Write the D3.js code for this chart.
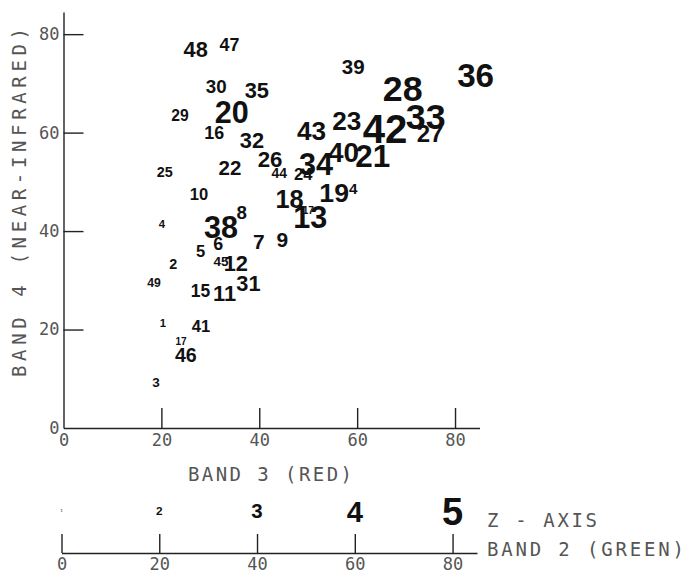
<!DOCTYPE html>
<html>
<head>
  <meta charset="utf-8">
  <script src="https://d3js.org/d3.v7.min.js"></script>
  <style>
    body { margin: 0; background: #fff; }
    .axis path, .axis line { stroke: #222; stroke-width: 1.4px; }
    .axis text, .title { font-family: "DejaVu Sans Mono", monospace; fill: #555; }
    .pt { font-family: "Liberation Sans", Arial, sans-serif; font-weight: bold; fill: #111; }
  </style>
</head>
<body>
<div id="vis"></div>
<script>
  // point labels and the three band values
  var ids   = ['1','2','3','4','4','5','6','7','8','9','10','11','12','13','15','16','17','17','18','19',
               '20','21','22','23','24','25','26','27','28','29','30','31','32','33','34','35','36','38','39','40',
               '41','42','43','44','45','46','47','48','49'];
  var band3 = [20.3,22.4,18.9,20.1,59.2,28.0,31.6,39.9,36.4,44.7,27.7,32.9,35.2,50.4,28.0,30.8,50.0,24.0,46.2,55.3,
               34.4,63.2,34.0,57.9,49.0,20.7,42.2,74.9,69.3,23.8,31.2,37.8,38.5,74.0,51.6,39.5,84.2,32.2,59.2,57.2,
               28.1,65.7,50.7,44.1,32.2,25.0,33.9,27.0,18.5];
  var band4 = [21.3,33.3,9.3,41.4,48.7,35.9,37.4,37.8,43.8,38.3,47.5,27.4,33.5,42.9,27.8,60.1,44.1,17.5,46.6,47.9,
               64.2,55.3,52.9,62.4,51.6,52.0,54.6,59.9,69.1,63.6,69.4,29.4,58.5,63.4,53.7,68.7,71.7,40.9,73.5,56.0,
               20.8,60.8,60.4,51.7,33.9,14.9,77.8,77.0,29.5];
  var band2 = [19,26,24,19,28,31,34,41,36,41,31,43,43,63,33,34,16,16,51,54,
               63,65,40,53,31,26,44,48,75,29,36,43,43,75,63,43,69,63,40,57,
               31,85,53,25,24,38,34,43,21];

  var ticks = [0, 20, 40, 60, 80];
  var zLabels = ['1', '2', '3', '4', '5'];

  var W = 684, H = 575;
  var svg = d3.select('#vis').append('svg').attr('width', W).attr('height', H);

  var x = d3.scaleLinear().domain([0, 85]).range([63.5, 479.5]);
  var y = d3.scaleLinear().domain([0, 84.5]).range([428, 12]);
  var z = d3.scaleLinear().domain([0, 85]).range([61.5, 477]);
  var size = d3.scaleLinear().domain([0, 80]).range([3, 38]);

  // x axis (band 3)
  var gx = svg.append('g').attr('class', 'axis')
      .attr('transform', 'translate(0,428)')
      .call(d3.axisBottom(x).tickValues(ticks).tickSizeInner(-20).tickSizeOuter(0).tickPadding(6));
  gx.selectAll('text').style('font-size', '17px');
  gx.selectAll('.tick').filter(function(d) { return d === 0; }).select('line').remove();

  // y axis (band 4)
  var gy = svg.append('g').attr('class', 'axis')
      .attr('transform', 'translate(63.5,0)')
      .call(d3.axisLeft(y).tickValues(ticks).tickSizeInner(-20).tickSizeOuter(0).tickPadding(4));
  gy.selectAll('text').style('font-size', '17px');
  gy.selectAll('.tick').filter(function(d) { return d === 0; }).select('line').remove();

  svg.append('text').attr('class', 'title')
      .attr('x', 188).attr('y', 481)
      .attr('textLength', 164).attr('lengthAdjust', 'spacing')
      .style('font-size', '19px')
      .text('BAND 3 (RED)');

  svg.append('text').attr('class', 'title')
      .attr('transform', 'translate(26,377) rotate(-90)')
      .attr('textLength', 349).attr('lengthAdjust', 'spacing')
      .style('font-size', '19px')
      .text('BAND 4 (NEAR-INFRARED)');

  // points drawn as their number, sized by band 2
  svg.append('g').selectAll('text')
      .data(ids)
      .enter().append('text')
      .attr('class', 'pt')
      .attr('text-anchor', 'middle')
      .attr('x', function(d, i) { return x(band3[i]); })
      .attr('y', function(d, i) { return y(band4[i]); })
      .attr('dy', '0.36em')
      .style('font-size', function(d, i) { return size(band2[i]) + 'px'; })
      .text(function(d) { return d; });

  // z axis legend (band 2)
  var gz = svg.append('g').attr('class', 'axis')
      .attr('transform', 'translate(0,553)')
      .call(d3.axisBottom(z).tickValues(ticks).tickSizeInner(-19).tickSizeOuter(0).tickPadding(5));
  gz.selectAll('text').style('font-size', '17px');

  svg.append('g').selectAll('text')
      .data(ticks)
      .enter().append('text')
      .attr('class', 'pt')
      .attr('text-anchor', 'middle')
      .attr('x', function(d) { return z(d); })
      .attr('y', 511)
      .attr('dy', '0.36em')
      .style('font-size', function(d) { return size(d) + 'px'; })
      .text(function(d, i) { return zLabels[i]; });

  svg.append('text').attr('class', 'title')
      .attr('x', 487).attr('y', 527)
      .attr('textLength', 110).attr('lengthAdjust', 'spacing')
      .style('font-size', '19px')
      .text('Z - AXIS');

  svg.append('text').attr('class', 'title')
      .attr('x', 487).attr('y', 556)
      .attr('textLength', 197).attr('lengthAdjust', 'spacing')
      .style('font-size', '19px')
      .text('BAND 2 (GREEN)');
</script>
</body>
</html>
